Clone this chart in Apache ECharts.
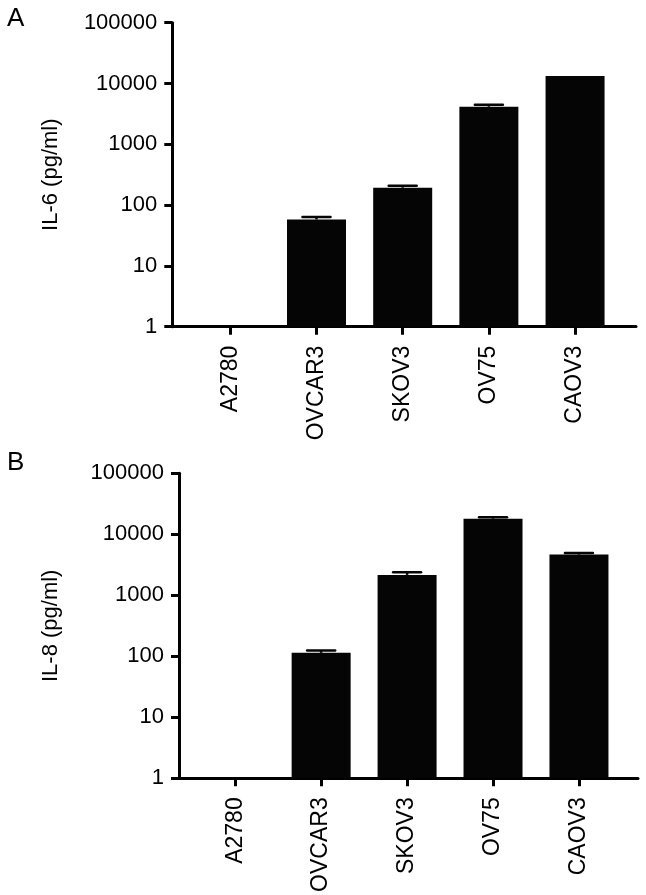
<!DOCTYPE html>
<html>
<head>
<meta charset="utf-8">
<script src="https://cdn.jsdelivr.net/npm/echarts@6/dist/echarts.min.js"></script>
<style>
html,body{margin:0;padding:0;background:#fff;}
#chart{width:646px;height:895px;}
</style>
</head>
<body>
<div id="chart"></div>
<script>
// ---- data ----
var categories = ['A2780', 'OVCAR3', 'SKOV3', 'OV75', 'CAOV3'];
var il6Values = [null, 58, 193, 4150, 13300];
var il6Errors = [null, 5.5, 15, 330, 0];
var il8Values = [null, 114, 2160, 18000, 4650];
var il8Errors = [null, 11, 220, 1000, 310];
var yTickValues = [1, 10, 100, 1000, 10000, 100000];

var FONT = 'Liberation Sans, Arial, Helvetica, sans-serif';

function pairs(vals) {
  return vals.map(function (v, i) { return [i, v == null ? '-' : v]; });
}
function errPairs(vals, errs) {
  var out = [];
  vals.forEach(function (v, i) {
    if (v != null && errs[i]) out.push([i, v, v + errs[i]]);
  });
  return out;
}

function errorRender(params, api) {
  var x = api.value(0);
  var lo = api.coord([x, api.value(1)]);
  var hi = api.coord([x, api.value(2)]);
  var half = 14;
  return {
    type: 'group',
    children: [
      { type: 'line', shape: { x1: lo[0], y1: lo[1], x2: hi[0], y2: hi[1] },
        style: { stroke: '#050505', lineWidth: 2.5 } },
      { type: 'line', shape: { x1: hi[0] - half, y1: hi[1], x2: hi[0] + half, y2: hi[1] },
        style: { stroke: '#050505', lineWidth: 2.5, lineCap: 'round' } }
    ]
  };
}

function xAxisCfg(gi, min, max) {
  return {
    gridIndex: gi, type: 'value', min: min, max: max,
    splitLine: { show: false },
    axisLine: { show: true, onZero: false, lineStyle: { color: '#000', width: 3 } },
    axisTick: { show: true, length: 8, lineStyle: { color: '#000', width: 3 },
      customValues: [0, 1, 2, 3, 4] },
    axisLabel: { rotate: 90, margin: 19, color: '#000', fontSize: 23, fontFamily: FONT,
      customValues: [0, 1, 2, 3, 4],
      formatter: function (v) { return categories[Math.round(v)]; } }
  };
}
function yAxisCfg(gi, name, gap) {
  return {
    gridIndex: gi, type: 'log', logBase: 10, min: 1, max: 100000,
    name: name, nameLocation: 'middle', nameGap: gap, nameRotate: 90,
    nameTextStyle: { color: '#000', fontSize: 22, fontFamily: FONT },
    splitLine: { show: false },
    axisLine: { show: true, onZero: false, lineStyle: { color: '#000', width: 3 } },
    axisTick: { show: true, length: 8, lineStyle: { color: '#000', width: 3 } },
    axisLabel: { margin: 15, color: '#000', fontSize: 22, fontFamily: FONT,
      customValues: yTickValues,
      formatter: function (v) { return String(Math.round(v)); } }
  };
}

var chart = echarts.init(document.getElementById('chart'), null, { renderer: 'canvas' });
chart.setOption({
  animation: false,
  backgroundColor: '#fff',
  graphic: [
    { type: 'text', left: 7, top: 6, style: { text: 'A', fontSize: 26, fontFamily: FONT, fill: '#000' } },
    { type: 'text', left: 7, top: 450, style: { text: 'B', fontSize: 26, fontFamily: FONT, fill: '#000' } }
  ],
  grid: [
    { left: 172.3, top: 22.7, width: 463.7, height: 304 },
    { left: 179, top: 473.3, width: 459, height: 305 }
  ],
  xAxis: [ xAxisCfg(0, -0.673, 4.707), xAxisCfg(1, -0.654, 4.687) ],
  yAxis: [ yAxisCfg(0, 'IL-6 (pg/ml)', 110), yAxisCfg(1, 'IL-8 (pg/ml)', 117) ],
  series: [
    { type: 'bar', xAxisIndex: 0, yAxisIndex: 0, barWidth: 59, data: pairs(il6Values),
      itemStyle: { color: '#050505' } },
    { type: 'custom', xAxisIndex: 0, yAxisIndex: 0, renderItem: errorRender,
      data: errPairs(il6Values, il6Errors), z: 3 },
    { type: 'bar', xAxisIndex: 1, yAxisIndex: 1, barWidth: 59, data: pairs(il8Values),
      itemStyle: { color: '#050505' } },
    { type: 'custom', xAxisIndex: 1, yAxisIndex: 1, renderItem: errorRender,
      data: errPairs(il8Values, il8Errors), z: 3 }
  ]
});
</script>
</body>
</html>
